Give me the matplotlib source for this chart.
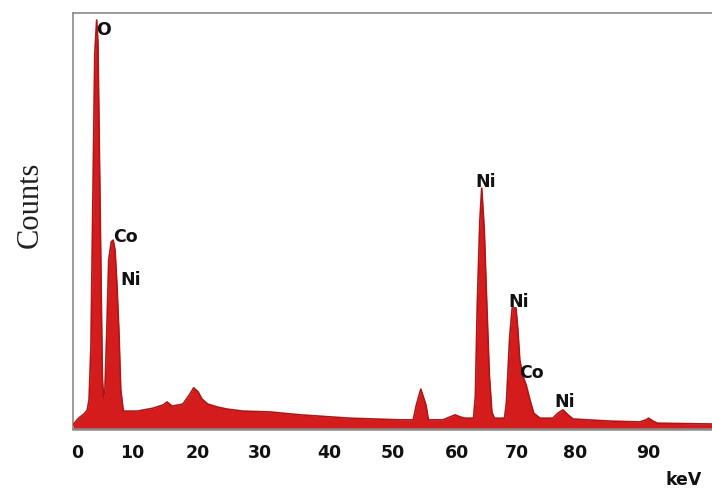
import matplotlib
matplotlib.use("Agg")
import matplotlib.pyplot as plt

# Traced EDS spectrum outline (energy-like axis units, relative counts)
energy = [-0.6, 0.0, 0.5, 1.1, 1.6, 1.9, 2.2, 2.5, 2.8, 3.1, 3.3, 3.5, 3.8, 4.0, 4.2,
          4.4, 4.7, 5.0, 5.4, 5.7, 6.0, 6.3, 6.6, 6.9, 7.3, 9.5, 12.0, 13.6, 14.2,
          15.0, 16.7, 17.8, 18.4, 19.1, 19.7, 20.6, 22.1, 23.6, 26.2, 30.4, 35.2,
          43.0, 50.9, 53.0, 53.5, 54.2, 55.0, 55.4, 57.7, 58.8, 59.6, 60.4, 61.2,
          62.5, 62.8, 63.1, 63.5, 63.8, 64.2, 64.6, 65.0, 65.4, 65.8, 67.4, 67.7,
          68.2, 68.6, 69.2, 69.5, 69.8, 70.3, 70.8, 71.4, 72.0, 73.0, 75.0, 75.8,
          76.6, 77.4, 78.2, 84.0, 88.7, 89.7, 90.1, 90.8, 91.5, 100.1]
counts = [1.0, 2.2, 2.9, 3.6, 4.5, 7.0, 20.0, 55.0, 90.0, 98.3, 93.0, 70.0, 35.0, 12.0, 7.5,
          9.4, 23.8, 40.6, 45.0, 45.4, 43.0, 34.6, 23.8, 9.4, 4.3, 4.3, 5.0, 5.8, 6.5,
          5.5, 6.0, 8.4, 9.9, 8.9, 7.2, 6.0, 5.3, 4.8, 4.3, 4.1, 3.4,
          2.6, 2.2, 2.2, 5.8, 9.6, 5.8, 2.2, 2.2, 2.9, 3.4, 2.9, 2.6,
          2.6, 8.0, 30.0, 50.0, 57.9, 48.0, 30.0, 13.0, 4.1, 2.6, 2.6, 6.5,
          22.0, 29.1, 29.1, 23.8, 16.6, 12.7, 10.6, 7.0, 3.8, 2.6, 2.6, 3.8,
          4.6, 3.4, 2.4, 1.9, 1.7, 2.2, 2.6, 1.9, 1.4, 1.2]

# Peak labels
label_text = ["O", "Co", "Ni", "Ni", "Ni", "Co", "Ni"]
label_x = [4.2, 7.6, 8.4, 64.5, 69.7, 71.7, 76.8]
label_y = [96.0, 46.2, 35.8, 59.4, 30.6, 13.5, 6.4]

# Tick labels (as printed on the original axis)
tick_pos = [0, 8.7, 19.1, 28.9, 39.7, 49.8, 59.9, 69.4, 78.5, 90.0]
tick_labels = ["0", "10", "20", "30", "40", "50", "60", "70", "80", "90"]

W, H = 712, 488
fig = plt.figure(figsize=(W / 100, H / 100), dpi=100)
left, right, top, bottom = 73, 712, 13, 429
ax = fig.add_axes([left / W, (H - bottom) / H, (right - left) / W, (bottom - top) / H])

fill_color = "#d51c1c"
edge_color = "#b01515"
ax.fill_between(energy, 0, counts, color=fill_color, lw=0, zorder=2)
ax.plot(energy, counts, color=edge_color, lw=1.2, zorder=3)

ax.set_xlim(-0.63, 100.1)
ax.set_ylim(0, 100)

for t, x, y in zip(label_text, label_x, label_y):
    ax.text(x, y, t, ha="center", va="center", fontsize=12.5, fontweight="bold",
            color="#111111", family="DejaVu Sans", zorder=4)

ax.set_xticks(tick_pos)
ax.set_xticklabels(tick_labels, fontsize=12.5, fontweight="bold", color="#111111")
ax.set_yticks([])
ax.tick_params(axis="x", length=0, pad=11)

for s in ["left", "top", "bottom"]:
    ax.spines[s].set_color("#8a8a8a")
    ax.spines[s].set_linewidth(1.2)
ax.spines["right"].set_visible(False)
ax.spines["bottom"].set_linewidth(1.8)

fig.text(684 / W, 1 - 480 / H, "keV", ha="center", va="center", fontsize=12.5,
         fontweight="bold", color="#111111")
fig.text(30 / W, 1 - 205 / H, "Counts", ha="center", va="center", rotation=90,
         fontsize=22, family="Liberation Serif", color="#222222")

fig.savefig("out.png", dpi=100)
